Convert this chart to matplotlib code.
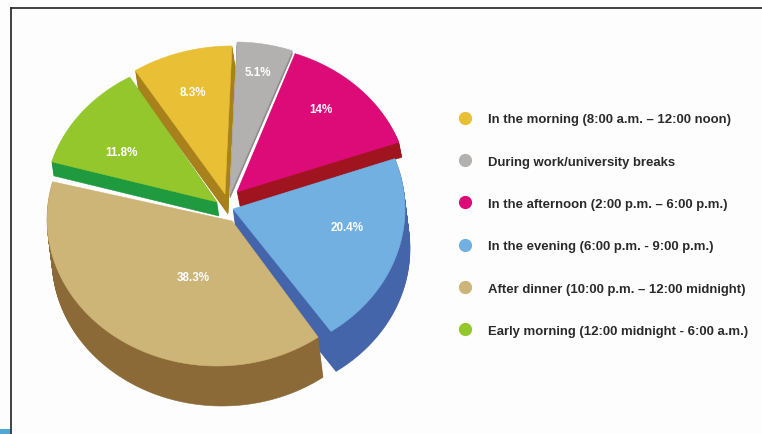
import numpy as np
import matplotlib
matplotlib.use("Agg")
import matplotlib.pyplot as plt
from matplotlib.patches import Polygon, Rectangle
from matplotlib.lines import Line2D

categories = ["In the morning (8:00 a.m. \u2013 12:00 noon)",
              "During work/university breaks",
              "In the afternoon (2:00 p.m. \u2013 6:00 p.m.)",
              "In the evening (6:00 p.m. - 9:00 p.m.)",
              "After dinner (10:00 p.m. \u2013 12:00 midnight)",
              "Early morning (12:00 midnight - 6:00 a.m.)"]
values = [8.3, 5.1, 14, 20.4, 38.3, 11.8]
value_labels = ["8.3%", "5.1%", "14%", "20.4%", "38.3%", "11.8%"]

top_colors = ["#e8bf35", "#b3b1b0", "#dc0b77", "#72b0e2", "#cdb477", "#94c72c"]
side_colors = ["#a9811c", "#8f8d8c", "#a0141f", "#4565ab", "#8b6a38", "#1f9a3e"]
# per-slice drawing geometry in pixels
ellipses = [(232, 195, 175, 148), (235, 195, 172, 152), (237, 193, 172, 147),
            (233, 210, 172, 149), (217, 220, 170, 147), (217, 203, 172, 145)]
apexes = [(225, 195), (230, 195), (237, 193), (233, 210), (232, 222), (217, 203)]
extrusions = [(3, 20), (0, 4), (3, 15), (5, 40), (5, 40), (2, 14)]
# perspective correction of each slice's start and end angle, degrees
angle_trim = [(-3, 0), (0.7, 0.7), (1, 0), (0, 0), (-1.75, -1.4), (0, 0)]
label_pos = [(193, 93), (258, 73), (321, 110), (347, 228), (193, 278), (121, 153)]
draw_order = [1, 0, 2, 5, 3, 4]

W, H = 762, 435
fig = plt.figure(figsize=(W / 100, H / 100), dpi=100, facecolor="#fdfdfd")
ax = fig.add_axes([0, 0, 1, 1])
ax.set_xlim(0, W)
ax.set_ylim(H, 0)
ax.axis("off")

shares = np.array(values) / sum(values) * 360
ends = np.cumsum(shares) - shares[0]
starts = ends - shares


def outline(i):
    cx, cy, rx, ry = ellipses[i]
    s = starts[i] + angle_trim[i][0]
    e = ends[i] + angle_trim[i][1]
    t = np.radians(np.linspace(s, e, 80))
    pts = np.column_stack([cx + rx * np.sin(t), cy - ry * np.cos(t)])
    return np.vstack([apexes[i], pts])


z = 2
for i in draw_order:
    base = outline(i)
    dx, dy = extrusions[i]
    for k in range(dy, 0, -1):
        ax.add_patch(Polygon(base + [dx * k / dy, k], closed=True, facecolor=side_colors[i],
                             edgecolor=side_colors[i], linewidth=0.4, zorder=z))
        z += 0.01
    ax.add_patch(Polygon(base, closed=True, facecolor=top_colors[i], edgecolor=top_colors[i],
                         linewidth=0.4, zorder=z))
    z += 0.01

for (x, y), t in zip(label_pos, value_labels):
    ax.text(x, y, t, color="white", fontsize=8.4, fontweight="bold", family="Liberation Sans",
            ha="center", va="center", zorder=20)

ax.plot([11, 11], [9, H], color="#222222", lw=1.2, zorder=25)
ax.plot([11, W], [9, 9], color="#222222", lw=1.2, zorder=25)
ax.add_patch(Rectangle((0, 430), 10, 5, facecolor="#4fa8d8", edgecolor="none", zorder=25))

handles = [Line2D([], [], linestyle="none", marker="o", markersize=8.5, color=c) for c in top_colors]
ax.legend(handles, categories, loc="upper left", bbox_to_anchor=(456 / W, 1 - 114 / H),
          bbox_transform=fig.transFigure, frameon=False, handletextpad=1.07, handlelength=1.4,
          labelspacing=2.3, borderpad=0, borderaxespad=0,
          prop={"family": "Liberation Sans", "weight": "bold", "size": 9.45},
          labelcolor="#2a2a2a")

fig.savefig("out.png", dpi=100, facecolor=fig.get_facecolor())
